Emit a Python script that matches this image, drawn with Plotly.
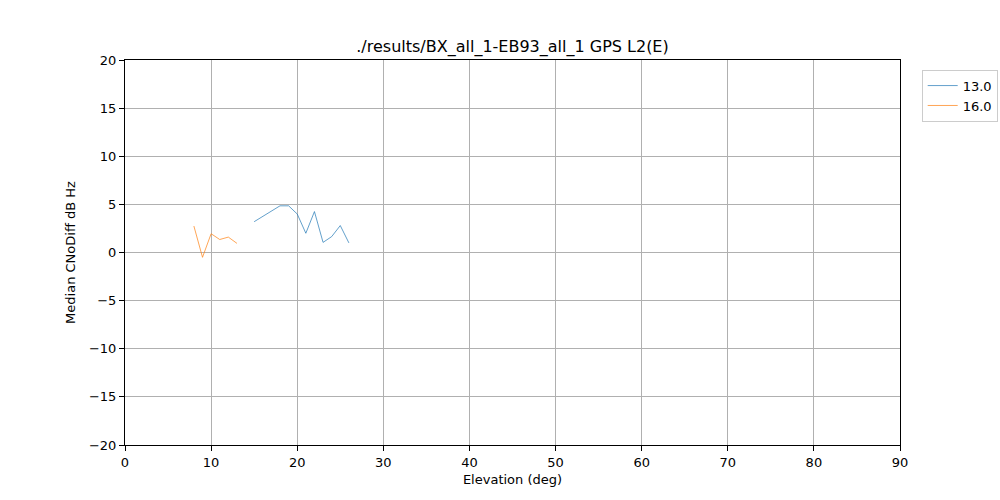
import plotly.graph_objects as go

title = "./results/BX_all_1-EB93_all_1 GPS L2(E)"
s1_name = "13.0"
s1_x = [15, 18, 19, 20, 21, 22, 23, 24, 25, 26]
s1_y = [3.2, 4.85, 4.85, 4.0, 2.0, 4.25, 1.05, 1.65, 2.8, 1.0]
s2_name = "16.0"
s2_x = [8, 9, 10, 11, 12, 13]
s2_y = [2.75, -0.5, 1.95, 1.35, 1.6, 0.95]

font = "DejaVu Sans"
fig = go.Figure()
fig.add_trace(go.Scatter(x=s1_x, y=s1_y, mode="lines", name=s1_name,
                         line=dict(color="#1f77b4", width=0.7)))
fig.add_trace(go.Scatter(x=s2_x, y=s2_y, mode="lines", name=s2_name,
                         line=dict(color="#ff7f0e", width=0.7)))

axis_common = dict(showline=True, linecolor="black", linewidth=1, mirror=True,
                   ticks="outside", ticklen=5, tickwidth=1, tickcolor="black",
                   showgrid=True, gridcolor="#b0b0b0", gridwidth=1, zeroline=False,
                   automargin=False,
                   tickfont=dict(family=font, size=13, color="black"))
fig.update_layout(
    width=1000, height=500,
    margin=dict(l=125, r=100, t=60, b=55, autoexpand=False),
    paper_bgcolor="white", plot_bgcolor="white",
    title=dict(text=title, x=0.5125, xanchor="center", y=0.908, yanchor="middle",
               font=dict(family=font, size=16, color="black")),
    xaxis=dict(range=[0, 90], tickvals=list(range(0, 91, 10)),
               title=dict(text="Elevation (deg)", font=dict(family=font, size=13, color="black"), standoff=6),
               **axis_common),
    yaxis=dict(range=[-20, 20], tickvals=list(range(-20, 21, 5)),
               title=dict(text="Median CNoDiff dB Hz", font=dict(family=font, size=13, color="black"), standoff=10),
               **axis_common),
    legend=dict(x=1.028, y=0.975, xanchor="left", yanchor="top",
                bordercolor="#cccccc", borderwidth=1, bgcolor="white",
                font=dict(family=font, size=13, color="black")),
    showlegend=True,
)
fig.write_html("out.html", config={"displayModeBar": False})

with open("out.html", "r", encoding="utf-8") as f:
    html = f.read()
html = html.replace("<head>", "<head><style>html,body{margin:0;padding:0;overflow:hidden;}</style>", 1)
with open("out.html", "w", encoding="utf-8") as f:
    f.write(html)
